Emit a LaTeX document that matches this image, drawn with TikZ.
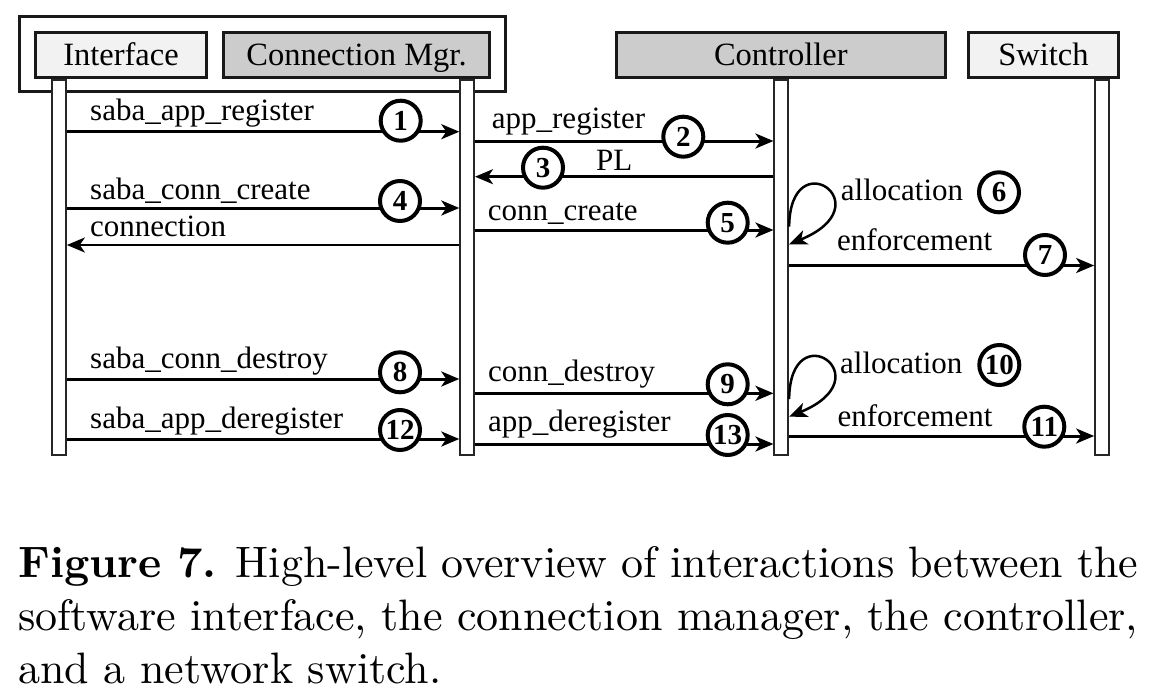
\documentclass[tikz,border=0pt]{standalone}
\usepackage{fontspec}
\setmainfont{Liberation Serif}
\newfontfamily\capfont{lmroman10-regular.otf}[BoldFont=lmroman10-bold.otf]
\usetikzlibrary{arrows.meta}

\definecolor{boxlight}{HTML}{F2F2F2}
\definecolor{boxgray}{HTML}{CCCCCC}

\tikzset{
  actor/.style={draw=black!90,line width=3pt,inner sep=0pt,text height=22pt,text depth=0pt,font=\fontsize{32.5}{36}\selectfont},
  life/.style={draw=black!85,line width=2pt,fill=white,inner sep=0pt,minimum width=13.7pt,minimum height=374.7pt,anchor=north},
  msg/.style={line width=3pt,-{Stealth[length=18pt,width=15pt,inset=5pt]}},
  loopmsg/.style={line width=2.5pt,-{Stealth[length=18pt,width=15pt,inset=5pt]}},
  lbl/.style={anchor=base west,inner sep=0pt,font=\fontsize{31}{34}\selectfont},
  num/.style={circle,draw=black,line width=4pt,fill=white,minimum size=40pt,inner sep=0pt,font=\bfseries\fontsize{29}{29}\selectfont},
  capline/.style={anchor=base west,inner sep=0pt,font=\capfont\fontsize{44}{52}\selectfont}
}

\begin{document}
\begin{tikzpicture}[x=1pt,y=-1pt]
\useasboundingbox (0,0) rectangle (1154,696);

\node[draw=black!90,line width=3pt,fill=white,minimum width=485.7pt,minimum height=75pt] (group) at (262.35,54) {};
\node[actor,fill=boxlight,minimum width=171pt,minimum height=45.3pt] (iface) at (121,54.85) {Interface};
\node[actor,fill=boxgray,minimum width=266pt,minimum height=45.3pt] (mgr) at (356.5,54.85) {Connection Mgr.};
\node[actor,fill=boxgray,minimum width=328.7pt,minimum height=45.3pt] (ctl) at (780.85,54.85) {Controller};
\node[actor,fill=boxlight,minimum width=149.4pt,minimum height=45.3pt] (sw) at (1043.5,54.85) {Switch};

\node[life] (ifl) at (59,79) {};
\node[life] (mgl) at (467.15,79) {};
\node[life] (ctll) at (781.3,79) {};
\node[life] (swl) at (1102,79) {};

\path[msg] (ifl.east |- 0,131.7) edge (mgl.west |- 0,131.7);
\path[msg] (mgl.east |- 0,141) edge (ctll.west |- 0,141);
\path[msg,line width=2.5pt] (ctll.west |- 0,176.7) edge (mgl.east |- 0,176.7);
\path[msg] (ifl.east |- 0,208) edge (mgl.west |- 0,208);
\path[msg] (mgl.east |- 0,230) edge (ctll.west |- 0,230);
\path[msg,line width=2.5pt] (mgl.west |- 0,245) edge (ifl.east |- 0,245);
\draw[loopmsg] (ctll.east |- 0,226.7) .. controls (790,140) and (885,205) .. (ctll.east |- 0,244.3);
\path[msg] (ctll.east |- 0,265.5) edge (swl.west |- 0,265.5);

\path[msg] (ifl.east |- 0,379) edge (mgl.west |- 0,379);
\path[msg] (mgl.east |- 0,393.3) edge (ctll.west |- 0,393.3);
\draw[loopmsg] (ctll.east |- 0,399) .. controls (790,312.3) and (885,377.3) .. (ctll.east |- 0,416.7);
\path[msg] (ctll.east |- 0,436) edge (swl.west |- 0,436);
\path[msg] (ifl.east |- 0,439) edge (mgl.west |- 0,439);
\path[msg] (mgl.east |- 0,444) edge (ctll.west |- 0,444);

\node[lbl] (l1) at (90,120) {saba\_app\_register};
\node[lbl] (l2) at (491.7,128) {app\_register};
\node[lbl] (l3) at (596,170) {PL};
\node[lbl] (l4) at (90,199) {saba\_conn\_create};
\node[lbl] (l5) at (487.7,220) {conn\_create};
\node[lbl] (lc) at (90,236) {connection};
\node[lbl] (l6) at (840.7,200) {allocation};
\node[lbl] (l7) at (837,250) {enforcement};
\node[lbl] (l8) at (90,368) {saba\_conn\_destroy};
\node[lbl] (l9) at (488,381.7) {conn\_destroy};
\node[lbl] (l10) at (840,373.3) {allocation};
\node[lbl] (l11) at (837.3,426) {enforcement};
\node[lbl] (l12) at (90,428) {saba\_app\_deregister};
\node[lbl] (l13) at (488,431.7) {app\_deregister};

\node[num] (n1) at (400.7,120.7) {1};
\node[num] (n2) at (683.3,136.7) {2};
\node[num] (n3) at (543,167.7) {3};
\node[num] (n4) at (400,201) {4};
\node[num] (n5) at (727.7,222.7) {5};
\node[num] (n6) at (999,192.3) {6};
\node[num] (n7) at (1045,255) {7};
\node[num] (n8) at (400,372.3) {8};
\node[num] (n9) at (727.7,384.3) {9};
\node[num] (n10) at (999.3,365) {10};
\node[num] (n11) at (1044.3,426.7) {11};
\node[num] (n12) at (400,430) {12};
\node[num] (n13) at (727.7,435) {13};

%caption
\node[capline] (cap1) at (18,577) {\makebox[1120pt][s]{\textbf{Figure 7.} High-level overview of interactions between the}};
\node[capline] (cap2) at (18,630) {\makebox[1120pt][s]{software interface, the connection manager, the controller,}};
\node[capline] (cap3) at (18,683) {and a network switch.};
\end{tikzpicture}
\end{document}
